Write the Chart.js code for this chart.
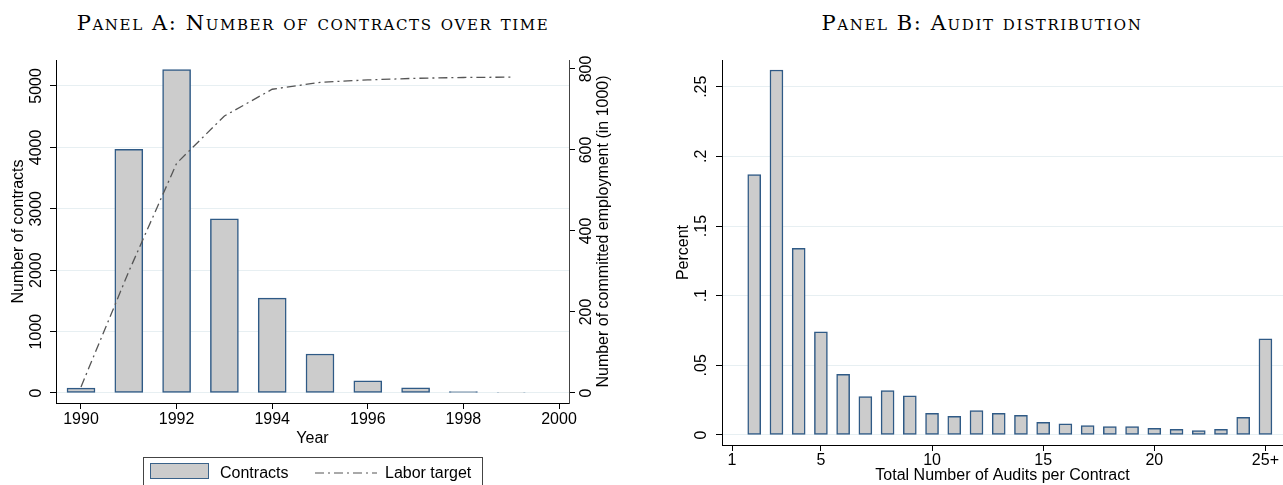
<!DOCTYPE html>
<html>
<head>
<meta charset="utf-8">
<title>Contracts and audits</title>
<script src="https://cdn.jsdelivr.net/npm/chart.js@4.4.1/dist/chart.umd.min.js"></script>
<style>
  body { margin: 0; background: #fff; width: 1283px; height: 485px; overflow: hidden; position: relative;
         font-family: "Liberation Sans", Arial, sans-serif; }
  .panel-title { position: absolute; top: 13px; font-family: "DejaVu Serif", "Liberation Serif", serif;
                 font-size: 21px; line-height: 20px; font-variant: small-caps; white-space: nowrap;
                 letter-spacing: 1.6px; transform: translateX(-50%); color: #000; }
  #boxA { position: absolute; left: 0; top: 0; }
  #boxB { position: absolute; left: 640px; top: 0; }
  .legend { position: absolute; left: 143px; top: 457px; width: 338px; height: 40px; border: 1px solid #444; }
  .legend .swatch { position: absolute; left: 6px; top: 5px; width: 57px; height: 14px; background: #cccccc;
                    border: 1.5px solid #3a6289; }
  .legend span { position: absolute; top: 6px; font-size: 16px; line-height: 18px; }
  .legend svg { position: absolute; left: 170px; top: 6px; }
</style>
</head>
<body>
<div class="panel-title" style="left:313px">Panel A: Number of contracts over time</div>
<div class="panel-title" style="left:982px">Panel B: Audit distribution</div>

<canvas id="boxA" width="640" height="485"></canvas>
<canvas id="boxB" width="643" height="485"></canvas>

<div class="legend">
  <div class="swatch"></div>
  <span style="left:76px">Contracts</span>
  <svg width="64" height="18"><line x1="1" y1="9" x2="63" y2="9" stroke="#555" stroke-width="1.2" stroke-dasharray="9,4,2,4"/></svg>
  <span style="left:241px">Labor target</span>
</div>

<script>
// panel A: contracts signed per year and cumulative committed employment
var years = [1990, 1991, 1992, 1993, 1994, 1995, 1996, 1997, 1998, 1999];
var contracts = [80, 3970, 5265, 2835, 1545, 635, 200, 85, 25, 8];
var laborTarget = [15, 300, 567, 684, 750, 767, 773, 777, 779, 780];
var yearTicks = [1990, 1992, 1994, 1996, 1998, 2000];
var contractTicks = [0, 1000, 2000, 3000, 4000, 5000];
var laborTicks = [0, 200, 400, 600, 800];

// panel B: share of contracts by number of audits
var audits = [2, 3, 4, 5, 6, 7, 8, 9, 10, 11, 12, 13, 14, 15, 16, 17, 18, 19, 20, 21, 22, 23, 24, 25];
var auditShare = [0.187, 0.262, 0.134, 0.074, 0.0436, 0.0275, 0.0318, 0.0282, 0.0156, 0.0134, 0.0175, 0.0156,
                  0.0141, 0.0091, 0.0081, 0.0067, 0.006, 0.006, 0.0048, 0.0041, 0.0031, 0.0041, 0.0127, 0.0691];
var auditTicks = [1, 5, 10, 15, 20, 25];
var auditTickLabels = ['1', '5', '10', '15', '20', '25+'];
var shareTicks = [0, 0.05, 0.1, 0.15, 0.2, 0.25];
var shareTickLabels = ['0', '.05', '.1', '.15', '.2', '.25'];

Chart.defaults.font.family = '"Liberation Sans", Arial, sans-serif';
Chart.defaults.font.size = 16;
Chart.defaults.color = '#000';
Chart.defaults.animation = false;

var barFill = '#cccccc';
var barEdge = '#2f5a86';
var gridColor = '#e7eff2';

function pts(xs, ys) {
  return xs.map(function(x, i) { return {x: x, y: ys[i]}; });
}

function fixedTicks(values) {
  return function(scale) {
    scale.ticks = values.map(function(v) { return {value: v}; });
  };
}

function plain(v) { return String(v); }

// y tick labels turned a quarter, reading upwards, plus any upright-turned titles
var turnedLabels = {
  id: 'turnedLabels',
  afterDraw: function(chart, args, opts) {
    var ctx = chart.ctx, area = chart.chartArea;
    ctx.save();
    ctx.font = '16px "Liberation Sans", Arial, sans-serif';
    ctx.fillStyle = '#000';
    ctx.textAlign = 'center';
    ctx.textBaseline = 'middle';
    (opts.axes || []).forEach(function(a) {
      var s = chart.scales[a.id];
      var x = s.position === 'left' ? area.left - a.gap : area.right + a.gap;
      s.ticks.forEach(function(t) {
        ctx.save();
        ctx.translate(x, s.getPixelForValue(t.value));
        ctx.rotate(-Math.PI / 2);
        ctx.fillText(t.label, 0, 0);
        ctx.restore();
      });
      if (a.title) {
        ctx.save();
        ctx.translate(area.right + a.titleGap, (area.top + area.bottom) / 2);
        ctx.rotate(-Math.PI / 2);
        ctx.fillText(a.title, 0, 0);
        ctx.restore();
      }
    });
    ctx.restore();
  }
};

new Chart(document.getElementById('boxA'), {
  type: 'bar',
  data: {
    datasets: [
      {
        type: 'line',
        label: 'Labor target',
        data: pts(years, laborTarget),
        yAxisID: 'y2',
        borderColor: '#555',
        borderWidth: 1.3,
        borderDash: [9, 4, 2, 4],
        pointRadius: 0,
        tension: 0,
        order: 0
      },
      {
        type: 'bar',
        label: 'Contracts',
        data: pts(years, contracts),
        yAxisID: 'y',
        backgroundColor: barFill,
        borderColor: barEdge,
        borderWidth: 1.5,
        borderSkipped: false,
        barThickness: 28,
        order: 1
      }
    ]
  },
  options: {
    responsive: false,
    layout: { padding: { top: 60, right: 0, bottom: 0, left: 0 } },
    plugins: {
      legend: { display: false },
      tooltip: { enabled: false },
      turnedLabels: {
        axes: [
          { id: 'y', gap: 19 },
          { id: 'y2', gap: 18, title: 'Number of committed employment (in 1000)', titleGap: 35 }
        ]
      }
    },
    scales: {
      x: {
        type: 'linear',
        offset: false,
        min: 1989.477,
        max: 2000.209,
        afterBuildTicks: fixedTicks(yearTicks),
        afterFit: function(s) { s.height = 82; },
        ticks: { padding: 1, maxRotation: 0, autoSkip: false, callback: plain },
        grid: { drawOnChartArea: false, offset: false, tickLength: 6, tickColor: '#000' },
        border: { display: true, color: '#000' },
        title: { display: true, text: 'Year', padding: { top: 0, bottom: 37 } }
      },
      y: {
        position: 'left',
        min: -162.9,
        max: 5423,
        afterBuildTicks: fixedTicks(contractTicks),
        afterFit: function(s) { s.width = 56; },
        ticks: { display: false, callback: plain },
        grid: { color: gridColor, tickColor: '#000', tickLength: 6 },
        border: { display: true, color: '#000' },
        title: { display: true, text: 'Number of contracts', padding: { top: 9, bottom: 0 } }
      },
      y2: {
        position: 'right',
        min: -24.7,
        max: 822.2,
        afterBuildTicks: fixedTicks(laborTicks),
        afterFit: function(s) { s.width = 71; },
        ticks: { display: false, callback: plain },
        grid: { drawOnChartArea: false, tickColor: '#000', tickLength: 6 },
        border: { display: true, color: '#444' }
      }
    }
  },
  plugins: [turnedLabels]
});

new Chart(document.getElementById('boxB'), {
  type: 'bar',
  data: {
    datasets: [{
      label: 'Percent',
      data: pts(audits, auditShare),
      backgroundColor: barFill,
      borderColor: barEdge,
      borderWidth: 1.5,
      borderSkipped: false,
      barThickness: 13
    }]
  },
  options: {
    responsive: false,
    layout: { padding: { top: 60, right: 0, bottom: 0, left: 0 } },
    plugins: {
      legend: { display: false },
      tooltip: { enabled: false },
      turnedLabels: { axes: [{ id: 'y', gap: 20 }] }
    },
    scales: {
      x: {
        type: 'linear',
        offset: false,
        min: 0.55,
        max: 25.79,
        afterBuildTicks: fixedTicks(auditTicks),
        afterFit: function(s) { s.height = 40; },
        ticks: {
          padding: 0, maxRotation: 0, autoSkip: false,
          callback: function(v) { return auditTickLabels[auditTicks.indexOf(v)]; }
        },
        grid: { drawOnChartArea: false, offset: false, tickLength: 6, tickColor: '#000' },
        border: { display: true, color: '#000' },
        title: { display: true, text: 'Total Number of Audits per Contract', padding: { top: 0, bottom: 0 } }
      },
      y: {
        position: 'left',
        min: -0.00718,
        max: 0.26917,
        afterBuildTicks: fixedTicks(shareTicks),
        afterFit: function(s) { s.width = 82; },
        ticks: {
          display: false,
          callback: function(v) { return shareTickLabels[shareTicks.indexOf(v)]; }
        },
        grid: { color: gridColor, tickColor: '#000', tickLength: 6 },
        border: { display: true, color: '#000' },
        title: { display: true, text: 'Percent', padding: { top: 34, bottom: 0 } }
      }
    }
  },
  plugins: [turnedLabels]
});
</script>
</body>
</html>
